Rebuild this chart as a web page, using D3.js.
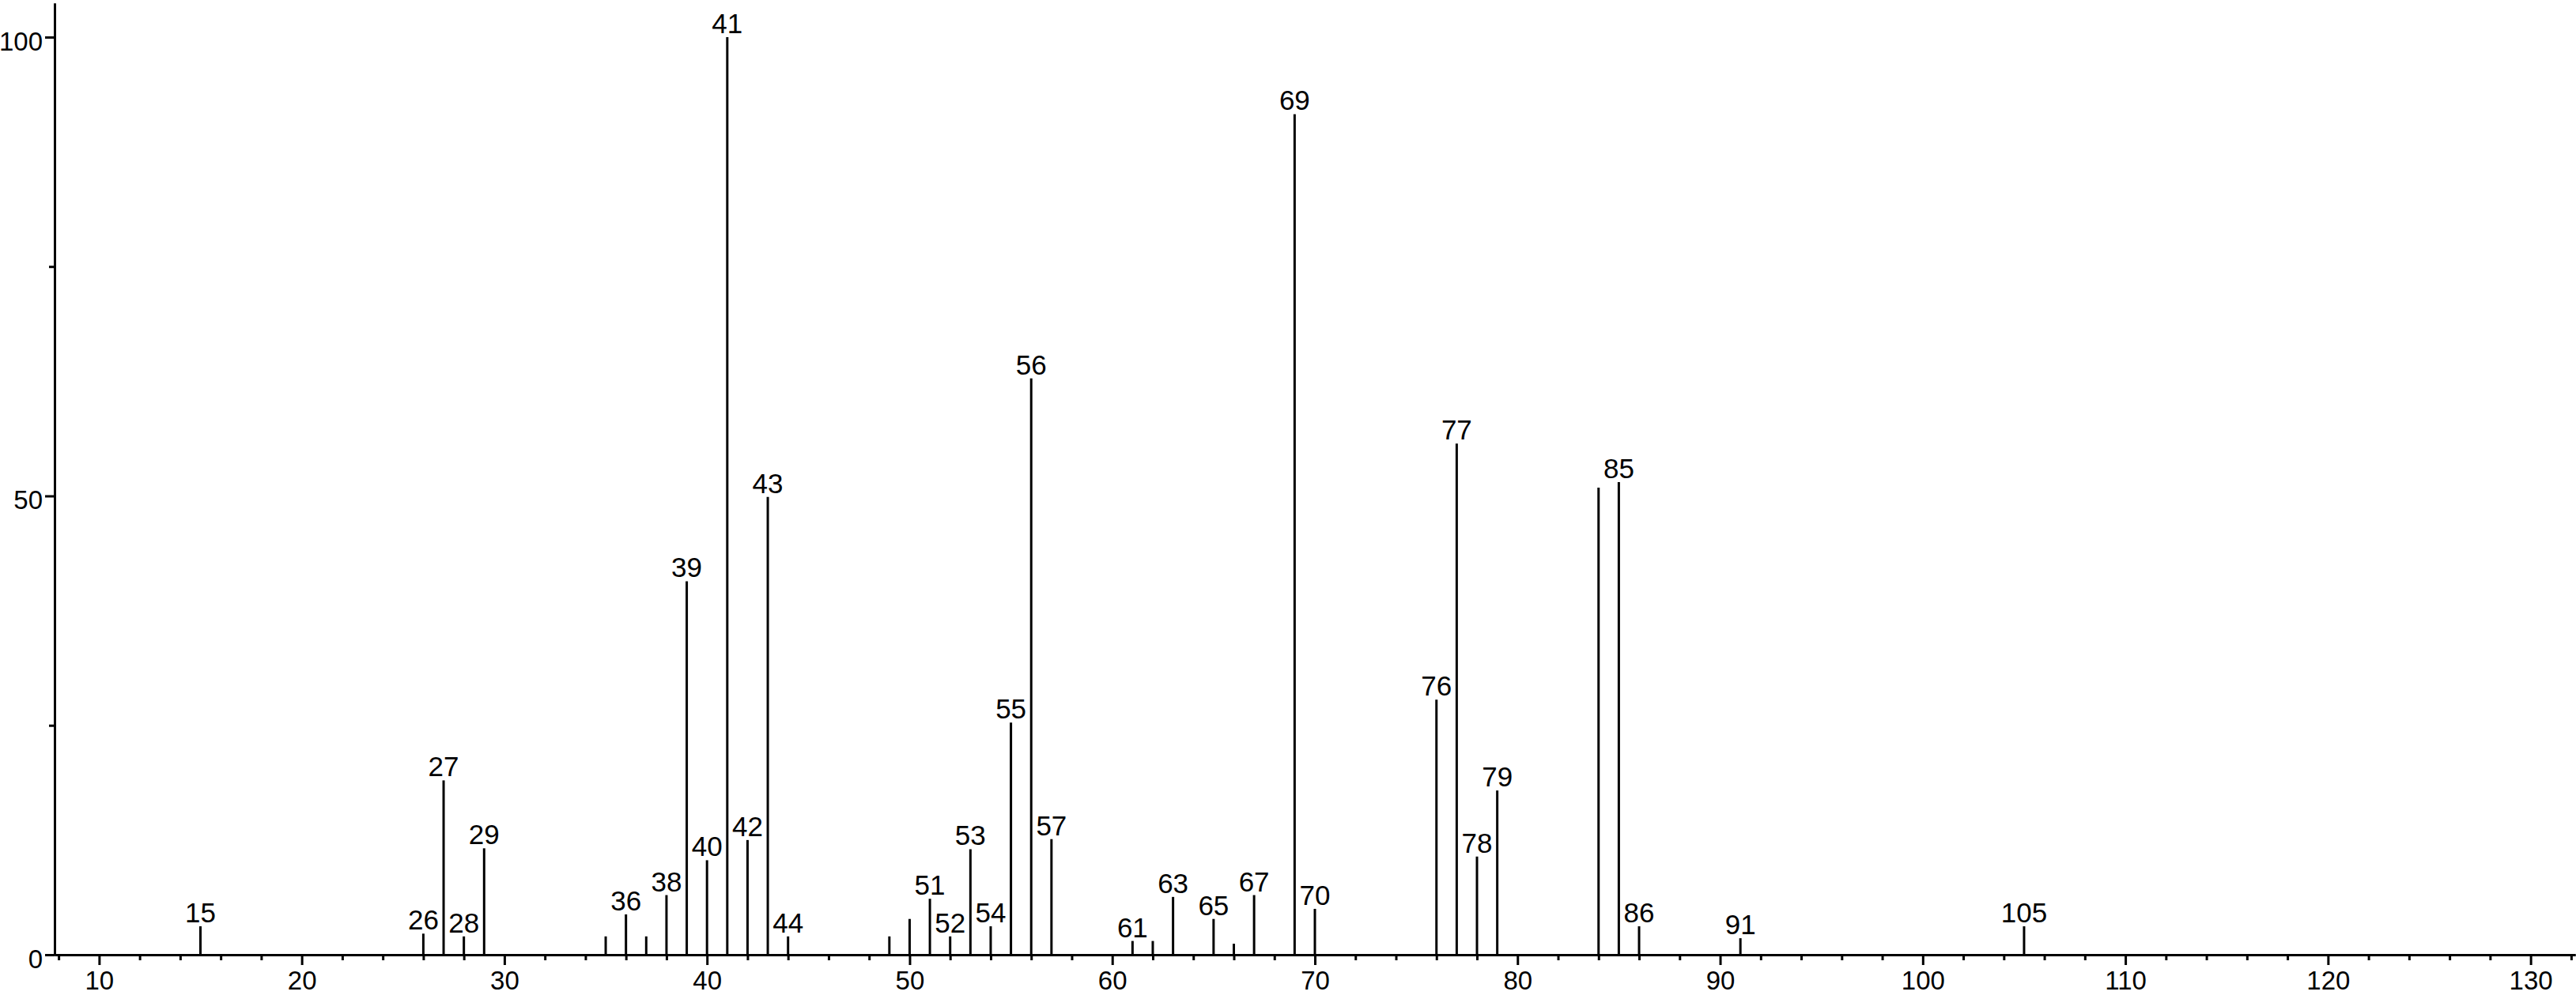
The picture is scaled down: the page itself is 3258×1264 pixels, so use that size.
<!DOCTYPE html>
<html lang="en">
	<head>
		<meta charset="utf-8">
		<title>Mass spectrum</title>
		<script src="https://d3js.org/d3.v7.min.js"></script>
		<style type="text/css">
			body {
				margin: 0;
				background-color: white;
			}
			svg text {
				font-family: "Liberation Sans", Arial, sans-serif;
				fill: black;
			}
			.axis path, .axis line {
				stroke: black;
				stroke-width: 3px;
			}
		</style>
	</head>
	<body>
		<script type="text/javascript">

			//Peaks: m/z and relative intensity (%)
			var mz        = [15, 26, 27, 28, 29, 35, 36, 37, 38, 39, 40, 41, 42, 43, 44,
			                 49, 50, 51, 52, 53, 54, 55, 56, 57, 61, 62, 63, 65, 66, 67,
			                 69, 70, 76, 77, 78, 79, 84, 85, 86, 91, 105];
			var intensity = [3.1, 2.3, 19.0, 2.0, 11.6, 2.0, 4.4, 2.0, 6.5, 40.7, 10.3, 100, 12.5, 49.9, 2.0,
			                 2.0, 3.9, 6.1, 2.0, 11.5, 3.1, 25.3, 62.8, 12.6, 1.5, 1.5, 6.3, 3.9, 1.2, 6.5,
			                 91.6, 5.0, 27.8, 55.7, 10.7, 17.9, 50.9, 51.5, 3.1, 1.8, 3.1];

			//Peaks that carry a label
			var labelled = [15, 26, 27, 28, 29, 36, 38, 39, 40, 41, 42, 43, 44,
			                51, 52, 53, 54, 55, 56, 57, 61, 63, 65, 67,
			                69, 70, 76, 77, 78, 79, 85, 86, 91, 105];

			//Tick labels
			var xTicks = [10, 20, 30, 40, 50, 60, 70, 80, 90, 100, 110, 120, 130];
			var xMinorTicks = d3.range(8, 133, 2).filter(function(d) { return d % 10 !== 0; });
			var yTicks = [0, 50, 100];
			var yMinorTicks = [25, 75];

			//Width and height
			var w = 3258;
			var h = 1264;

			//Scales
			var x = d3.scaleLinear()
							.domain([7.8, 132.2])
							.range([69, 3257]);

			var y = d3.scaleLinear()
							.domain([0, 103.7])
							.range([1208, 4]);

			//Create SVG element
			var svg = d3.select("body")
						.append("svg")
						.attr("width", w)
						.attr("height", h);

			//Peak lines
			var peaks = mz.map(function(m, i) { return {mz: m, value: intensity[i]}; });

			svg.selectAll("line.peak")
			   .data(peaks)
			   .enter()
			   .append("line")
			   .attr("class", "peak")
			   .attr("x1", function(d) { return x(d.mz); })
			   .attr("x2", function(d) { return x(d.mz); })
			   .attr("y1", y(0))
			   .attr("y2", function(d) { return y(d.value); })
			   .attr("stroke", "black")
			   .attr("stroke-width", 3);

			//Peak labels
			svg.selectAll("text.peak")
			   .data(peaks.filter(function(d) { return labelled.indexOf(d.mz) >= 0; }))
			   .enter()
			   .append("text")
			   .attr("class", "peak")
			   .attr("x", function(d) { return x(d.mz); })
			   .attr("y", function(d) { return y(d.value) - 5; })
			   .attr("text-anchor", "middle")
			   .style("font-size", "35px")
			   .text(function(d) { return d.mz; });

			//X axis, minor ticks first
			svg.append("g")
			   .attr("class", "axis")
			   .attr("transform", "translate(0," + y(0) + ")")
			   .call(d3.axisBottom(x).tickValues(xMinorTicks).tickSize(7).tickSizeOuter(0).tickFormat(""));

			var xAxis = svg.append("g")
			   .attr("class", "axis")
			   .attr("transform", "translate(0," + y(0) + ")")
			   .call(d3.axisBottom(x).tickValues(xTicks).tickSize(13).tickSizeOuter(0).tickPadding(8));

			xAxis.selectAll("text")
			     .style("font-size", "33px");

			//Y axis
			svg.append("g")
			   .attr("class", "axis")
			   .attr("transform", "translate(" + x.range()[0] + ",0)")
			   .call(d3.axisLeft(y).tickValues(yMinorTicks).tickSize(7).tickSizeOuter(0).tickFormat(""));

			var yAxis = svg.append("g")
			   .attr("class", "axis")
			   .attr("transform", "translate(" + x.range()[0] + ",0)")
			   .call(d3.axisLeft(y).tickValues(yTicks).tickSize(12).tickSizeOuter(0).tickPadding(3));

			yAxis.selectAll("text")
			     .attr("dy", "0.5em")
			     .style("font-size", "33px");

		</script>
	</body>
</html>
